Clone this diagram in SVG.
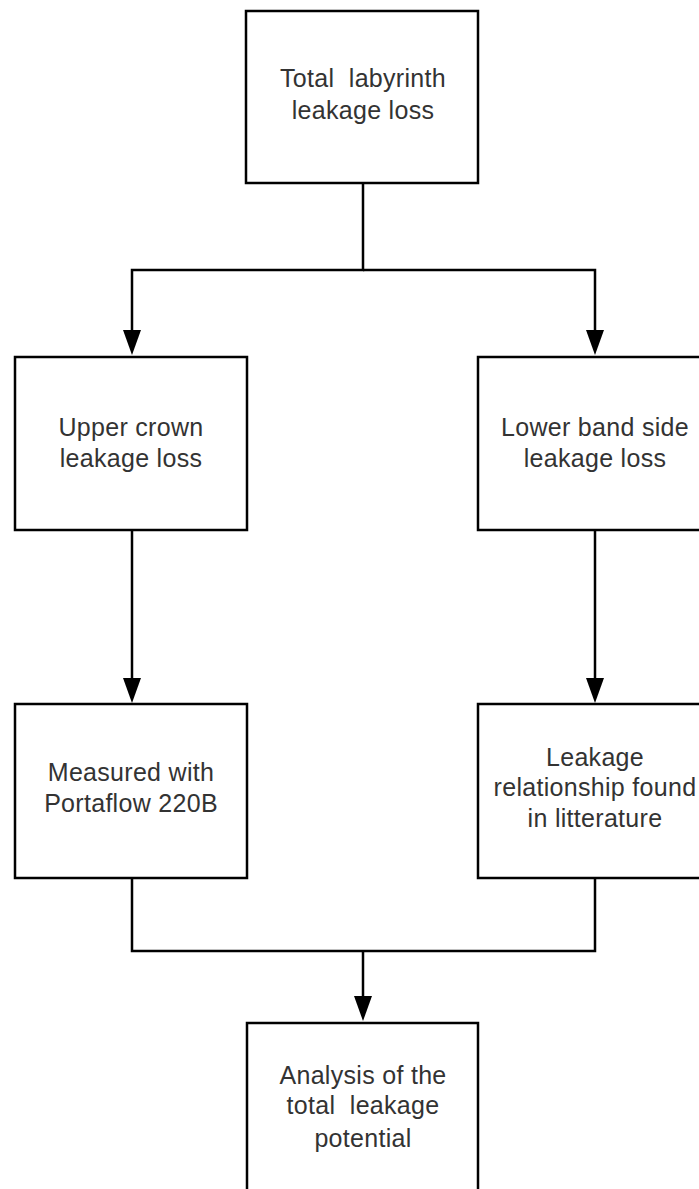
<svg xmlns="http://www.w3.org/2000/svg" width="699" height="1189" viewBox="0 0 699 1189">
<style>
.box{fill:#fff;stroke:#000;stroke-width:2.5}
.t{font-family:"Liberation Sans",Arial,sans-serif;font-size:25px;letter-spacing:0.3px;fill:#333;text-anchor:middle;dominant-baseline:central}
.c{fill:none;stroke:#000;stroke-width:2.5}
.ah{fill:#000}
</style>
<rect width="699" height="1189" fill="#fff"/>
<g id="connectors">
<polyline class="c" points="363,183 363,270 132,270 132,332"/>
<polyline class="c" points="363,270 595,270 595,332"/>
<polygon class="ah" points="123,330 141,330 132,355"/>
<polygon class="ah" points="586,330 604,330 595,355"/>
<line class="c" x1="132" y1="530" x2="132" y2="680"/>
<polygon class="ah" points="123,678 141,678 132,703"/>
<line class="c" x1="595" y1="530" x2="595" y2="680"/>
<polygon class="ah" points="586,678 604,678 595,703"/>
<polyline class="c" points="132,878 132,951 595,951 595,878"/>
<line class="c" x1="363" y1="951" x2="363" y2="998"/>
<polygon class="ah" points="354,996 372,996 363,1021"/>
</g>
<g id="n1">
<rect class="box" x="246" y="11" width="232" height="172"/>
<text class="t" x="363" y="78" xml:space="preserve">Total  labyrinth</text>
<text class="t" x="363" y="110">leakage loss</text>
</g>
<g id="n2">
<rect class="box" x="15" y="357" width="232" height="173"/>
<text class="t" x="131" y="427">Upper crown</text>
<text class="t" x="131" y="458">leakage loss</text>
</g>
<g id="n3">
<rect class="box" x="478" y="357" width="234" height="173"/>
<text class="t" x="595" y="427">Lower band side</text>
<text class="t" x="595" y="458">leakage loss</text>
</g>
<g id="n4">
<rect class="box" x="15" y="704" width="232" height="174"/>
<text class="t" x="131" y="772">Measured with</text>
<text class="t" x="131" y="803">Portaflow 220B</text>
</g>
<g id="n5">
<rect class="box" x="478" y="704" width="234" height="174"/>
<text class="t" x="595" y="757">Leakage</text>
<text class="t" x="595" y="787">relationship found</text>
<text class="t" x="595" y="818">in litterature</text>
</g>
<g id="n6">
<rect class="box" x="247" y="1023" width="231" height="180"/>
<text class="t" x="363" y="1075">Analysis of the</text>
<text class="t" x="363" y="1105" xml:space="preserve">total  leakage</text>
<text class="t" x="363" y="1138">potential</text>
</g>
</svg>
